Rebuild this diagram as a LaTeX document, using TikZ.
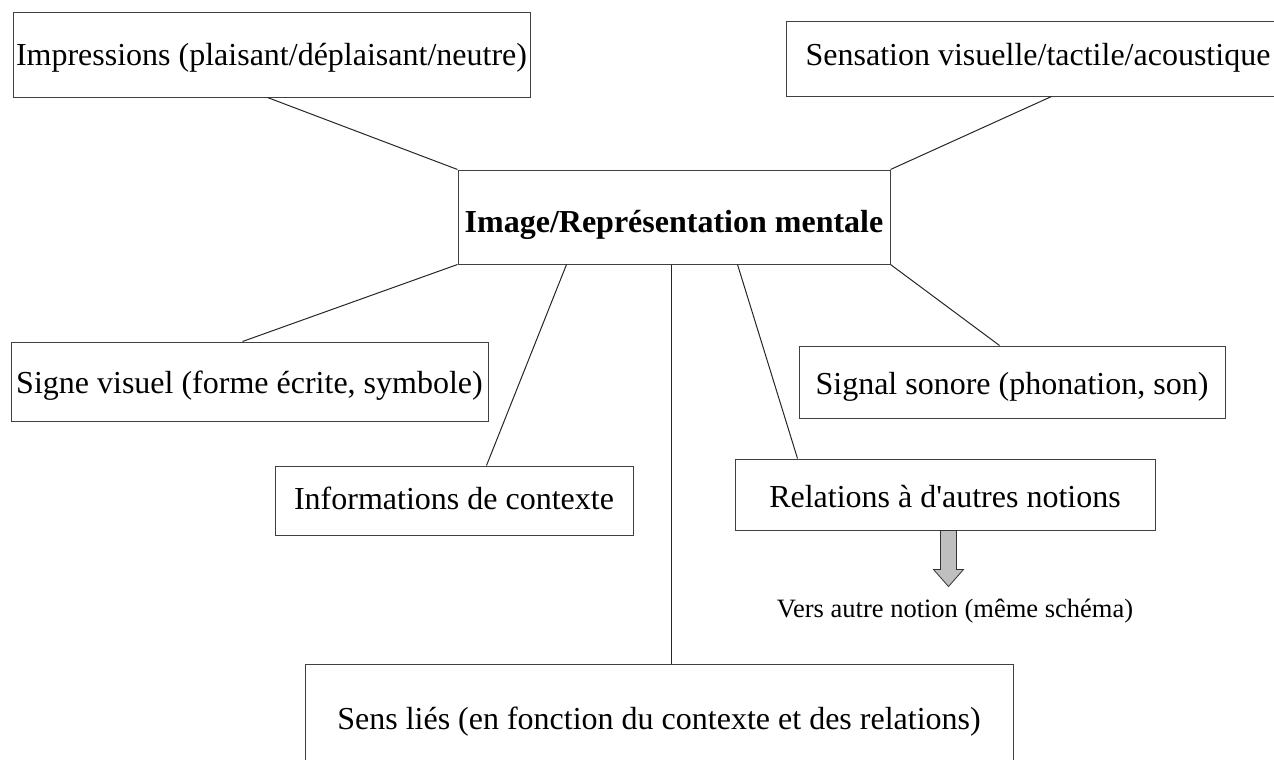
\documentclass[tikz,border=0pt]{standalone}
\usepackage{fontspec}
\setmainfont{Liberation Serif}
\newfontfamily\lserif{Liberation Serif}
\usetikzlibrary{calc}
\begin{document}
\begin{tikzpicture}[x=1pt,y=-1pt,
 box/.style={draw=black!75, line width=1pt, inner sep=0pt, font=\fontsize{32}{38}\lserif, text=black, text depth=0pt},
 link/.style={draw=black!85, line width=1pt},
 arrowshape/.style={fill=black!25, draw=black!80, line width=0.8pt},
 note/.style={font=\fontsize{26.5}{31}\lserif, inner sep=0pt}]
\useasboundingbox (0,0) rectangle (1274,760);
\clip (0,0) rectangle (1274,760);
\node[box, minimum width=517, minimum height=84, text height=22pt] (imp) at (271.5,55) {Impressions (plaisant/déplaisant/neutre)};
\node[box, minimum width=504, minimum height=74, text height=13pt] (sen) at (1038,59) {Sensation visuelle/tactile/acoustique};
\node[box, minimum width=432, minimum height=94, font=\fontsize{32}{38}\lserif\bfseries, text height=30pt] (cen) at (674,217) {Image/Représentation mentale};
\node[box, minimum width=477, minimum height=79, text height=24pt] (sig) at (249.5,381.5) {Signe visuel (forme écrite, symbole)};
\node[box, minimum width=358, minimum height=69, text height=17pt] (inf) at (454,500.5) {Informations de contexte};
\node[box, minimum width=426, minimum height=72, text height=25pt] (son) at (1012,382) {Signal sonore (phonation, son)};
\node[box, minimum width=420, minimum height=71, text height=25pt] (rel) at (945,494.5) {Relations à d'autres notions};
\node[box, minimum width=708, minimum height=108, text height=23pt] (sens) at (659,718) {Sens liés (en fonction du contexte et des relations)};
\node[note] (vers) at (955,611) {Vers autre notion (même schéma)};

\draw[link] ($(imp.south west)+(255,0)$) -- (cen.north west);
\draw[link] ($(sen.south west)+(266,0)$) -- (cen.north east);
\draw[link] ($(sig.north west)+(232,0)$) -- (cen.south west);
\draw[link] ($(inf.north west)+(212,0)$) -- ($(cen.south west)+(109,0)$);
\coordinate (c1) at ($(cen.south west)+(214,0)$);
\draw[link] (c1) -- (c1 |- sens.north);
\draw[link] ($(rel.north west)+(63,0)$) -- ($(cen.south west)+(280,0)$);
\draw[link] ($(son.north west)+(201,0)$) -- (cen.south east);

\coordinate (a0) at ($(rel.south west)+(214,0)$);
\draw[arrowshape] ($(a0)+(-8,0)$) -- ($(a0)+(-8,39)$) -- ($(a0)+(-15,39)$) -- ($(a0)+(0,56)$) -- ($(a0)+(15,39)$) -- ($(a0)+(8,39)$) -- ($(a0)+(8,0)$) -- cycle;
\end{tikzpicture}
\end{document}
